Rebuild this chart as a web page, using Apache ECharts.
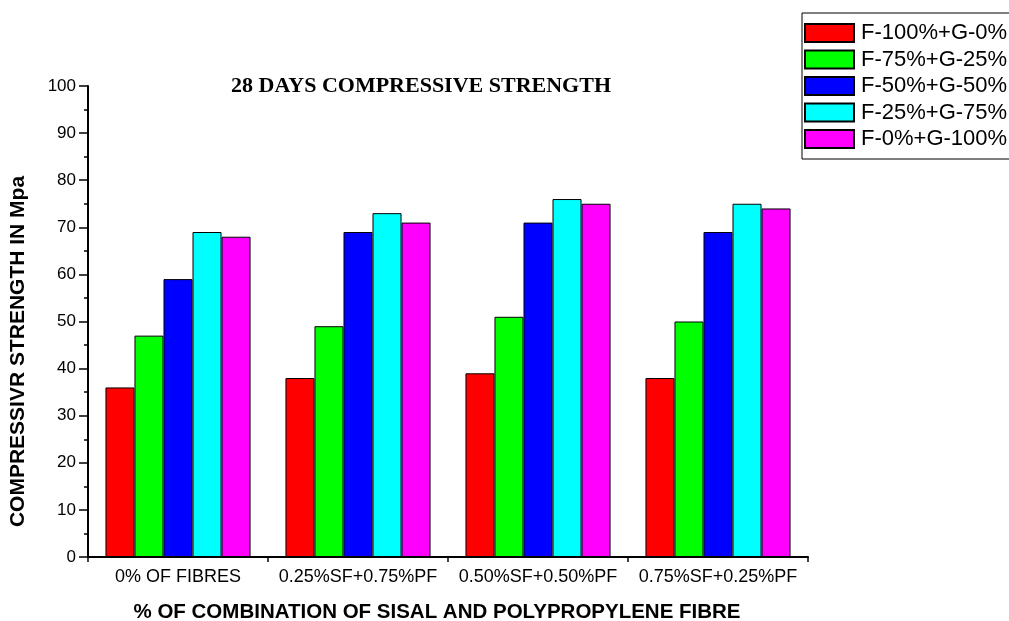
<!DOCTYPE html>
<html>
<head>
<meta charset="utf-8">
<script src="https://cdn.jsdelivr.net/npm/echarts@6/dist/echarts.min.js"></script>
<style>html,body{margin:0;padding:0;background:#fff}#c{width:1009px;height:621px}</style>
</head>
<body>
<div id="c"></div>
<script>
const categories = ['0% OF FIBRES', '0.25%SF+0.75%PF', '0.50%SF+0.50%PF', '0.75%SF+0.25%PF'];
const seriesNames = ['F-100%+G-0%', 'F-75%+G-25%', 'F-50%+G-50%', 'F-25%+G-75%', 'F-0%+G-100%'];
const f100g0 = [36, 38, 39, 38];
const f75g25 = [47, 49, 51, 50];
const f50g50 = [59, 69, 71, 69];
const f25g75 = [69, 73, 76, 75];
const f0g100 = [68, 71, 75, 74];
const colors = ['#ff0000', '#00ff00', '#0000ff', '#00ffff', '#ff00ff'];
const yTicks = [0, 10, 20, 30, 40, 50, 60, 70, 80, 90, 100];

const values = [f100g0, f75g25, f50g50, f25g75, f0g100];
const font = 'Liberation Sans, Arial, sans-serif';

const chart = echarts.init(document.getElementById('c'));
chart.setOption({
  animation: false,
  backgroundColor: '#fff',
  title: {
    text: '28 DAYS COMPRESSIVE STRENGTH',
    left: 416, top: 70, textAlign: 'center',
    textStyle: { fontFamily: 'Liberation Serif, Times New Roman, serif', fontWeight: 'bold', fontSize: 22, color: '#000' }
  },
  legend: {
    orient: 'vertical',
    left: 802, top: 13,
    padding: [9, 80, 9, 2],
    itemWidth: 49, itemHeight: 18, itemGap: 4.5,
    borderColor: '#000', borderWidth: 1,
    icon: 'rect',
    textStyle: { fontFamily: font, fontSize: 22, color: '#000', padding: [0, 0, 0, 2] },
    data: seriesNames
  },
  grid: { left: 88, right: 201, top: 86, bottom: 64, containLabel: false, outerBoundsMode: 'none' },
  xAxis: [{
    type: 'category',
    data: categories,
    axisLine: { lineStyle: { color: '#000', width: 2 } },
    axisTick: { alignWithLabel: true, length: 8, lineStyle: { color: '#000', width: 1.5 } },
    axisLabel: { fontFamily: font, fontSize: 18, color: '#000', margin: 11, interval: 0 },
    name: '% OF COMBINATION OF SISAL AND POLYPROPYLENE FIBRE',
    nameLocation: 'middle',
    nameGap: 45,
    nameTextStyle: { fontFamily: font, fontWeight: 'bold', fontSize: 20.5, color: '#000', padding: [0, 22, 0, 0] }
  }, {
    type: 'category',
    data: categories,
    position: 'bottom',
    axisLine: { show: false },
    axisTick: { show: true, alignWithLabel: false, length: 5, lineStyle: { color: '#000', width: 1.5 } },
    axisLabel: { show: false }
  }],
  yAxis: {
    type: 'value',
    min: yTicks[0], max: yTicks[yTicks.length - 1], interval: 10,
    axisLine: { show: true, lineStyle: { color: '#000', width: 2 } },
    axisTick: { show: true, length: 9, lineStyle: { color: '#000', width: 1.5 } },
    minorTick: { show: true, splitNumber: 2, length: 4, lineStyle: { color: '#000', width: 1.5 } },
    splitLine: { show: false },
    axisLabel: { fontFamily: font, fontSize: 17, color: '#000', margin: 12 },
    name: 'COMPRESSIVR STRENGTH IN Mpa',
    nameLocation: 'middle',
    nameGap: 59,
    nameTextStyle: { fontFamily: font, fontWeight: 'bold', fontSize: 21, color: '#000', padding: [0, 60, 0, 0] }
  },
  series: seriesNames.map((n, i) => ({
    name: n,
    type: 'bar',
    xAxisIndex: 0,
    data: values[i],
    barGap: '0%',
    barCategoryGap: '19.4%',
    itemStyle: { color: colors[i], borderColor: '#000', borderWidth: 1 }
  }))
});
</script>
</body>
</html>
